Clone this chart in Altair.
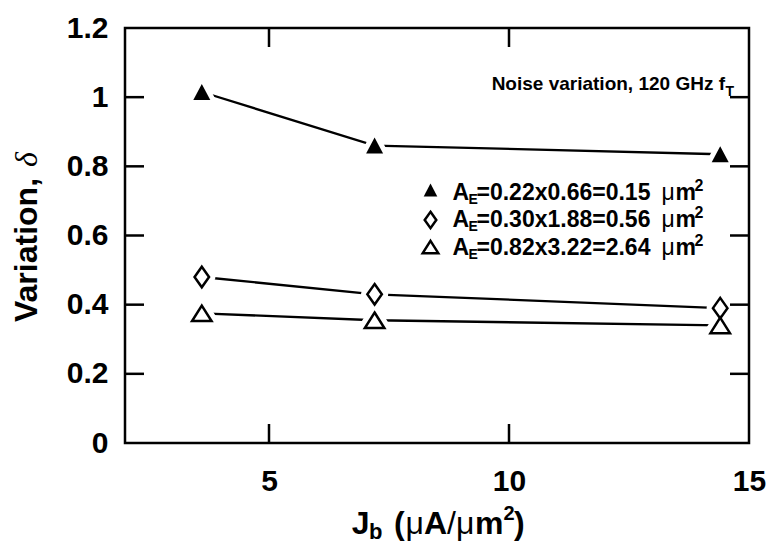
import altair as alt
import pandas as pd

# ---------------- data ----------------
jb = [3.6, 7.2, 14.4]                      # J_b (uA/um^2)
var_small = [1.015, 0.86, 0.835]           # A_E = 0.15 um^2  (filled triangles)
var_mid = [0.48, 0.43, 0.39]               # A_E = 0.56 um^2  (open diamonds)
var_large = [0.375, 0.355, 0.34]           # A_E = 2.64 um^2  (open triangles)
series_names = ["0.15", "0.56", "2.64"]
legend_dims = ["=0.22x0.66=0.15", "=0.30x1.88=0.56", "=0.82x3.22=2.64"]
x_ticks = [5, 10, 15]
y_ticks = [0, 0.2, 0.4, 0.6, 0.8, 1.0, 1.2]
x_inner = [5, 10]
y_inner = [0.2, 0.4, 0.6, 0.8, 1.0]

frames = {}
for name, vals in zip(series_names, [var_small, var_mid, var_large]):
    frames[name] = pd.DataFrame({"series": name, "jb": jb, "var": vals})
df = pd.concat(frames.values(), ignore_index=True)

# ---------------- layout / style ----------------
W, H = 624, 415
FONT = "Liberation Sans"
SERIF = "Liberation Serif"
TICK = 19
LW = 2.5

TRI_FILLED = "M0,-0.8L0.85,0.8L-0.85,0.8Z"
TRI_OPEN = "M0,-0.775L0.975,0.775L-0.975,0.775Z"
DIAMOND = "M0,-1.025L0.725,0L0,1.025L-0.725,0Z"

xs = alt.Scale(domain=[2, 15], nice=False, zero=False)
ys = alt.Scale(domain=[0, 1.2], nice=False, zero=False)

x_axis = alt.Axis(values=x_ticks, format="d", labelFont=FONT, labelFontSize=30,
                  labelFontWeight="bold", labelColor="black", labelPadding=23,
                  ticks=False, tickSize=0, domain=False, grid=False, title=None,
                  labelFlush=False, labelOverlap=False)
y_axis = alt.Axis(values=y_ticks, format="~g", labelFont=FONT, labelFontSize=30,
                  labelFontWeight="bold", labelColor="black", labelPadding=17,
                  ticks=False, tickSize=0, domain=False, grid=False, title=None,
                  labelFlush=False, labelOverlap=False)

X = alt.X("jb:Q", scale=xs, axis=x_axis)
Y = alt.Y("var:Q", scale=ys, axis=y_axis)

layers = []

# connecting lines
layers.append(
    alt.Chart(df).mark_line(color="black", strokeWidth=2.3).encode(
        x=X, y=Y, detail="series:N", order="jb:Q")
)

shapes = {"0.15": (TRI_FILLED, "black", 0), "0.56": (DIAMOND, "white", LW),
          "2.64": (TRI_OPEN, "white", LW)}

# white halos so lines stop short of markers
for name in series_names:
    shp, _, sw = shapes[name]
    layers.append(
        alt.Chart(frames[name]).mark_point(
            shape=shp, size=400, fill="white", stroke="white",
            strokeWidth=10 + sw, strokeJoin="round", opacity=1
        ).encode(x=X, y=Y)
    )
# markers
for name in series_names:
    shp, fill, sw = shapes[name]
    layers.append(
        alt.Chart(frames[name]).mark_point(
            shape=shp, size=400, fill=fill, stroke="black",
            strokeWidth=sw, opacity=1, strokeJoin="miter"
        ).encode(x=X, y=Y)
    )

# inward ticks on all four sides
tx = pd.DataFrame({"jb": x_inner})
ty = pd.DataFrame({"var": y_inner})
layers.append(alt.Chart(tx).mark_rule(color="black", strokeWidth=LW).encode(
    x=X, y=alt.value(H), y2=alt.value(H - TICK)))
layers.append(alt.Chart(tx).mark_rule(color="black", strokeWidth=LW).encode(
    x=X, y=alt.value(0), y2=alt.value(TICK)))
layers.append(alt.Chart(ty).mark_rule(color="black", strokeWidth=LW).encode(
    y=Y, x=alt.value(0), x2=alt.value(TICK)))
layers.append(alt.Chart(ty).mark_rule(color="black", strokeWidth=LW).encode(
    y=Y, x=alt.value(W - TICK), x2=alt.value(W)))

one = pd.DataFrame({"k": [0]})


def txt(s, x, y, size, weight="bold", style="normal", font=FONT,
        align="left", angle=0, baseline="alphabetic"):
    return alt.Chart(one).mark_text(
        text=s, fontSize=size, fontWeight=weight, fontStyle=style, font=font,
        align=align, baseline=baseline, angle=angle, color="black"
    ).encode(x=alt.value(x), y=alt.value(y))


# legend (plot-area pixel coordinates)
leg_sym = [(TRI_FILLED, "black", 0), (DIAMOND, "white", LW), (TRI_OPEN, "white", LW)]
leg_base = [172, 199.3, 226.6]
leg_sym_y = [162, 192, 219]
for i in range(3):
    shp, fill, sw = leg_sym[i]
    layers.append(
        alt.Chart(one).mark_point(shape=shp, size=256, fill=fill, stroke="black",
                                  strokeWidth=sw, opacity=1).encode(
            x=alt.value(305.5), y=alt.value(leg_sym_y[i]))
    )
    b = leg_base[i]
    layers.append(txt("A", 327.5, b, 23))
    layers.append(txt("E", 343.5, b + 4, 14))
    layers.append(txt(legend_dims[i], 351.5, b, 23))
    layers.append(txt("\u03bc", 536.5, b, 23, weight="normal"))
    layers.append(txt("m", 550.5, b, 23))
    layers.append(txt("2", 569.5, b - 9, 16))

# note
layers.append(txt("Noise variation, 120 GHz f", 600, 62, 19, align="right"))
layers.append(txt("T", 600.5, 67.5, 14))

# y-axis title
layers.append(txt("Variation,", -88.3, 294, 32, angle=270))
layers.append(txt("\u03b4", -88.3, 139, 32, weight="normal", style="italic",
                  font=SERIF, angle=270))

# x-axis title
xb = 506
layers.append(txt("J", 226.7, xb, 32))
layers.append(txt("b", 244, xb + 5, 22))
layers.append(txt("(", 269, xb, 32))
layers.append(txt("\u03bc", 280.5, xb, 32, weight="normal"))
layers.append(txt("A", 299, xb, 32))
layers.append(txt("/", 322, xb, 32, weight="normal"))
layers.append(txt("\u03bc", 331, xb, 32, weight="normal"))
layers.append(txt("m", 350, xb, 32))
layers.append(txt("2", 378.5, xb - 14, 20))
layers.append(txt(")", 389, xb, 32))

chart = alt.layer(*layers).properties(
    width=W, height=H,
    autosize=alt.AutoSizeParams(type="none"),
    padding={"left": 125, "top": 28, "right": 18, "bottom": 100},
    background="white",
).configure_view(stroke="black", strokeWidth=LW)

chart.save("out.html", embed_options={"renderer": "svg", "actions": False})
